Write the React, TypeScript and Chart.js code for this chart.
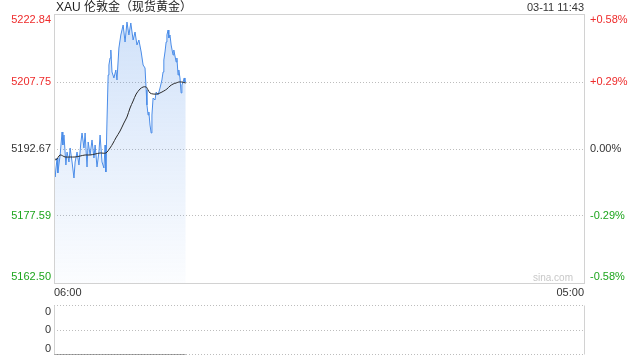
import React, { useEffect, useRef } from "react";
import { Chart, registerables } from "chart.js";

Chart.register(...registerables);

const FONT = 'Arial, "Liberation Sans", "Noto Sans CJK SC", sans-serif';

const chartTitle = "XAU 伦敦金（现货黄金）";
const quoteTime = "03-11 11:43";
const watermark = "sina.com";
const prevClose = 5192.67;

const priceTickValues = [5222.84, 5207.75, 5192.67, 5177.59, 5162.5];
const priceTickLabels = ["5222.84", "5207.75", "5192.67", "5177.59", "5162.50"];
const changeTickLabels = ["+0.58%", "+0.29%", "0.00%", "-0.29%", "-0.58%"];
const timeAxisValues = ["06:00", "05:00"];
const timeAxisLabels = ["06:00", "05:00"];

const priceTimes = [
  "06:00", "06:03", "06:08", "06:10", "06:16", "06:21", "06:23", "06:26", "06:31", "06:34",
  "06:39", "06:42", "06:47", "06:52", "06:55", "07:00", "07:05", "07:10", "07:13", "07:18",
  "07:21", "07:26", "07:29", "07:34", "07:39", "07:44", "07:47", "07:52", "07:57", "08:00",
  "08:05", "08:10", "08:13", "08:15", "08:18", "08:21", "08:23", "08:26", "08:28", "08:31",
  "08:36", "08:41", "08:44", "08:49", "08:54", "09:00", "09:05", "09:10", "09:15", "09:20",
  "09:26", "09:31", "09:36", "09:41", "09:47", "09:52", "09:57", "10:00", "10:02", "10:05",
  "10:07", "10:10", "10:13", "10:15", "10:18", "10:23", "10:26", "10:31", "10:36", "10:41",
  "10:44", "10:46", "10:49", "10:52", "10:54", "10:57", "10:59", "11:02", "11:05", "11:10",
  "11:12", "11:18", "11:20", "11:23", "11:25", "11:28", "11:31", "11:33", "11:36", "11:39",
  "11:41", "11:43",
];
const prices = [
  5190.87, 5186.37, 5190.64, 5187.27, 5191.32, 5196.5, 5193.57, 5195.82, 5189.07, 5191.99,
  5189.74, 5192.9, 5189.74, 5186.14, 5189.74, 5191.99, 5189.07, 5194.25, 5196.27, 5192.9,
  5196.27, 5188.62, 5194.25, 5191.32, 5194.7, 5190.64, 5193.57, 5188.62, 5191.99, 5195.82,
  5189.74, 5188.39, 5193.57, 5187.49, 5199.2, 5209.33, 5211.58, 5213.16, 5214.96, 5210.01,
  5208.66, 5210.46, 5208.21, 5215.41, 5218.34, 5220.59, 5216.76, 5221.26, 5218.34, 5221.04,
  5217.21, 5219.01, 5216.09, 5217.21, 5214.51, 5211.58, 5210.91, 5205.95, 5202.58, 5200.32,
  5201.0, 5198.07, 5196.27, 5200.32, 5204.15, 5203.7, 5205.5, 5204.83, 5206.4, 5208.21,
  5210.01, 5212.71, 5214.51, 5216.76, 5218.34, 5219.46, 5217.66, 5218.34, 5216.09, 5213.83,
  5214.96, 5212.26, 5213.16, 5209.33, 5210.46, 5208.66, 5205.28, 5207.08, 5207.75, 5208.66,
  5207.75, 5207.75,
];

const avgTimes = [
  "06:00", "06:05", "06:16", "06:29", "06:42", "06:55", "07:08", "07:21", "07:34", "07:47",
  "08:00", "08:15", "08:26", "08:34", "08:41", "08:52", "09:02", "09:10", "09:18", "09:26",
  "09:34", "09:44", "09:52", "10:00", "10:05", "10:10", "10:18", "10:28", "10:36", "10:46",
  "10:54", "11:02", "11:10", "11:18", "11:25", "11:33", "11:43",
];
const avgPrices = [
  5190.87, 5190.19, 5191.32, 5190.87, 5190.87, 5190.87, 5191.09, 5191.32, 5191.32, 5191.54,
  5191.77, 5191.77, 5192.9, 5194.02, 5195.15, 5196.72, 5198.52, 5199.87, 5201.9, 5203.48,
  5205.05, 5206.18, 5206.63, 5206.63, 5205.95, 5205.28, 5205.05, 5205.05, 5205.28, 5205.73,
  5206.18, 5206.85, 5207.3, 5207.53, 5207.75, 5207.75, 5207.53,
];

const volumeTimes = ["06:00", "07:00", "08:00", "09:00", "10:00", "11:00", "11:43"];
const volumes = [0, 0, 0, 0, 0, 0, 0];
const volumeTickValues = [0, 1, 2];
const volumeTickLabels = ["0", "0", "0"];

const RED = "#ee2b2b";
const GREEN = "#1da51d";
const DARK = "#333333";
const BLUE = "#4a8ce8";
const BORDER = "#d2d2d2";
const GRID = "#bdbdbd";

const toMin = (t: string) => {
  const [h, m] = t.split(":").map(Number);
  return (h * 60 + m - 360 + 1440) % 1440;
};
const SESSION_END = toMin("05:00");

const tickColor = (v: number) => (v > prevClose ? RED : v < prevClose ? GREEN : DARK);

const topDecor = {
  id: "topDecor",
  afterDraw(chart: any) {
    const { ctx, chartArea: a, scales } = chart;
    const y = scales.y;
    ctx.save();
    ctx.strokeStyle = BORDER;
    ctx.lineWidth = 1;
    ctx.strokeRect(a.left + 0.5, a.top - 0.5, a.right - a.left, a.bottom - a.top + 1);

    ctx.font = `11px ${FONT}`;
    ctx.textBaseline = "middle";
    const n = priceTickValues.length;
    priceTickValues.forEach((v, i) => {
      let py = y.getPixelForValue(v);
      if (i === 0) py += 5;
      if (i === n - 1) py -= 6;
      ctx.fillStyle = tickColor(v);
      ctx.textAlign = "right";
      ctx.fillText(priceTickLabels[i], a.left - 3, py);
      ctx.textAlign = "left";
      ctx.fillText(changeTickLabels[i], a.right + 6, py);
    });

    ctx.fillStyle = "#222";
    ctx.textAlign = "left";
    ctx.font = `12px ${FONT}`;
    ctx.fillText(chartTitle, a.left + 2, 7.5);
    ctx.font = `11px ${FONT}`;
    ctx.textAlign = "right";
    ctx.fillStyle = DARK;
    ctx.fillText(quoteTime, a.right, 7.5);

    ctx.font = `10px ${FONT}`;
    ctx.fillStyle = "#c8c8c8";
    ctx.fillText(watermark, a.right - 11, a.bottom - 5);
    ctx.restore();
  },
};

const volDecor = {
  id: "volDecor",
  afterDraw(chart: any) {
    const { ctx, chartArea: a, scales } = chart;
    const y = scales.y;
    ctx.save();
    ctx.strokeStyle = BORDER;
    ctx.lineWidth = 1;
    ctx.beginPath();
    ctx.moveTo(a.left + 0.5, Math.floor(a.top) + 0.5);
    ctx.lineTo(a.left + 0.5, Math.floor(a.bottom) + 0.5);
    ctx.moveTo(a.right + 0.5, Math.floor(a.top) + 0.5);
    ctx.lineTo(a.right + 0.5, Math.floor(a.bottom) + 0.5);
    ctx.stroke();
    ctx.font = `11px ${FONT}`;
    ctx.textBaseline = "middle";
    ctx.textAlign = "right";
    ctx.fillStyle = DARK;
    const n = volumeTickValues.length;
    volumeTickValues.forEach((v, i) => {
      let py = y.getPixelForValue(v);
      if (i === n - 1) py += 6;
      if (i === 0) py -= 6;
      ctx.fillText(volumeTickLabels[i], a.left - 3, py);
    });
    ctx.restore();
  },
};

export default function App() {
  const topRef = useRef<HTMLCanvasElement>(null);
  const volRef = useRef<HTMLCanvasElement>(null);

  useEffect(() => {
    const top = new Chart(topRef.current as HTMLCanvasElement, {
      type: "line",
      data: {
        datasets: [
          {
            label: "均价",
            data: avgTimes.map((t, i) => ({ x: toMin(t), y: avgPrices[i] })),
            borderColor: "#2a2a2a",
            borderWidth: 1,
            pointRadius: 0,
            tension: 0.3,
            fill: false,
            order: 0,
          },
          {
            label: "价格",
            data: priceTimes.map((t, i) => ({ x: toMin(t), y: prices[i] })),
            borderColor: BLUE,
            borderWidth: 1,
            pointRadius: 0,
            tension: 0,
            fill: "start",
            order: 1,
            backgroundColor: (c: any) => {
              const a = c.chart.chartArea;
              if (!a) return "rgba(74,140,232,0.15)";
              const g = c.chart.ctx.createLinearGradient(0, a.top, 0, a.bottom);
              g.addColorStop(0, "rgba(74,140,232,0.26)");
              g.addColorStop(1, "rgba(74,140,232,0.02)");
              return g;
            },
          },
        ],
      },
      options: {
        animation: false,
        responsive: false,
        events: [],
        layout: { padding: { left: 54, right: 56, top: 15, bottom: 0 } },
        plugins: { legend: { display: false }, tooltip: { enabled: false } },
        scales: {
          x: {
            type: "linear",
            min: 0,
            max: SESSION_END,
            afterBuildTicks: (s: any) => {
              s.ticks = timeAxisValues.map((t) => ({ value: toMin(t) }));
            },
            afterFit: (s: any) => {
              s.height = 17;
            },
            grid: { display: false, drawTicks: false },
            border: { display: false },
            ticks: {
              autoSkip: false,
              maxRotation: 0,
              align: "inner",
              padding: 3,
              color: DARK,
              font: { family: FONT, size: 11 },
              callback: (_v: any, i: number) => timeAxisLabels[i],
            },
          },
          y: {
            min: priceTickValues[priceTickValues.length - 1],
            max: priceTickValues[0],
            afterBuildTicks: (s: any) => {
              s.ticks = priceTickValues.map((v) => ({ value: v }));
            },
            afterFit: (s: any) => {
              s.width = 0;
            },
            ticks: { display: false },
            grid: {
              drawTicks: false,
              color: (c: any) =>
                c.index === 0 || c.index === priceTickValues.length - 1 ? "rgba(0,0,0,0)" : GRID,
            },
            border: { display: false, dash: [1, 2] },
          },
        },
      },
      plugins: [topDecor],
    } as any);

    const vol = new Chart(volRef.current as HTMLCanvasElement, {
      type: "line",
      data: {
        datasets: [
          {
            label: "成交量",
            data: volumeTimes.map((t, i) => ({ x: toMin(t), y: volumes[i] })),
            borderColor: "#555555",
            borderWidth: 1,
            pointRadius: 0,
            fill: false,
          },
        ],
      },
      options: {
        animation: false,
        responsive: false,
        events: [],
        layout: { padding: { left: 54, right: 56, top: 5.5, bottom: 5.5 } },
        plugins: { legend: { display: false }, tooltip: { enabled: false } },
        scales: {
          x: { type: "linear", display: false, min: 0, max: SESSION_END },
          y: {
            min: volumeTickValues[0],
            max: volumeTickValues[volumeTickValues.length - 1],
            afterBuildTicks: (s: any) => {
              s.ticks = volumeTickValues.map((v) => ({ value: v }));
            },
            afterFit: (s: any) => {
              s.width = 0;
            },
            ticks: { display: false },
            grid: { drawTicks: false, color: GRID },
            border: { display: false, dash: [1, 2] },
          },
        },
      },
      plugins: [volDecor],
    } as any);

    return () => {
      top.destroy();
      vol.destroy();
    };
  }, []);

  return (
    <div
      style={{
        position: "fixed",
        left: 0,
        top: 0,
        width: 640,
        height: 360,
        background: "#fff",
      }}
    >
      <canvas
        ref={topRef}
        width={640}
        height={300}
        style={{ position: "absolute", left: 0, top: 0, width: 640, height: 300 }}
      />
      <canvas
        ref={volRef}
        width={640}
        height={60}
        style={{ position: "absolute", left: 0, top: 300, width: 640, height: 60 }}
      />
    </div>
  );
}
